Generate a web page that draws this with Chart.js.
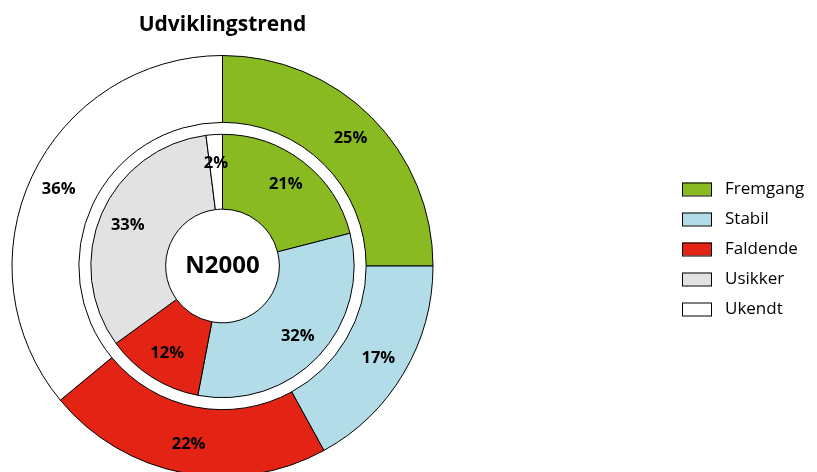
<!DOCTYPE html>
<html lang="da">
<head>
  <meta charset="UTF-8" />
  <title>Udviklingstrend</title>
  <script src="https://cdn.jsdelivr.net/npm/chart.js"></script>
  <style>
    html, body { margin: 0; padding: 0; background: #fff; overflow: hidden; }
    canvas { display: block; }
  </style>
</head>
<body>
  <canvas id="trendChart" width="817" height="490"></canvas>

  <script>
    const titleText = "Udviklingstrend";
    const centerText = "N2000";
    const categories = ["Fremgang", "Stabil", "Faldende", "Usikker", "Ukendt"];
    const sliceColors = ["#8aba21", "#b2dde8", "#e32314", "#e2e2e2", "#ffffff"];
    // outer ring and inner ring, in percent
    const outerValues = [25, 17, 22, 0, 36];
    const innerValues = [21, 32, 12, 33, 2];

    const fontFamily = "'Open Sans', 'Noto Sans', sans-serif";

    // percent labels on the slices + the text in the middle
    const sliceLabels = {
      id: "sliceLabels",
      afterDatasetsDraw(chart) {
        const ctx = chart.ctx;
        ctx.save();
        ctx.fillStyle = "#000";
        ctx.textAlign = "center";
        ctx.textBaseline = "middle";
        ctx.font = "bold 16.5px " + fontFamily;
        [[0, 0.56], [2, 0.62]].forEach(([di, k]) => {
          const values = chart.data.datasets[di].data;
          chart.getDatasetMeta(di).data.forEach((arc, i) => {
            if (!values[i]) return;
            const p = arc.getProps(["x", "y", "startAngle", "endAngle", "innerRadius", "outerRadius"], true);
            const a = (p.startAngle + p.endAngle) / 2;
            const r = p.innerRadius + (p.outerRadius - p.innerRadius) * k;
            ctx.fillText(values[i] + "%", p.x + Math.cos(a) * r, p.y + Math.sin(a) * r);
          });
        });
        const c = chart.getDatasetMeta(2).data[0];
        ctx.font = "bold 24px " + fontFamily;
        ctx.fillText(centerText, c.x, c.y);
        ctx.restore();
      }
    };

    // legend drawn at the right side
    const sideLegend = {
      id: "sideLegend",
      afterDraw(chart) {
        const ctx = chart.ctx;
        ctx.save();
        ctx.font = "17px " + fontFamily;
        ctx.textBaseline = "middle";
        ctx.lineWidth = 1;
        categories.forEach((name, i) => {
          const y = 189 + i * 30;
          ctx.fillStyle = sliceColors[i];
          ctx.fillRect(682, y - 6.5, 30, 13);
          ctx.strokeStyle = "#000";
          ctx.strokeRect(682.5, y - 6, 29, 13);
          ctx.fillStyle = "#000";
          ctx.fillText(name, 725, y);
        });
        ctx.restore();
      }
    };

    const ctx = document.getElementById("trendChart").getContext("2d");
    const chart = new Chart(ctx, {
      type: "doughnut",
      data: {
        labels: categories,
        datasets: [
          {
            data: outerValues,
            backgroundColor: sliceColors,
            borderColor: "#000",
            borderWidth: 1,
            weight: 67
          },
          {
            // white gap between the two rings
            data: [1],
            backgroundColor: "rgba(0,0,0,0)",
            borderWidth: 0,
            weight: 12
          },
          {
            data: innerValues,
            backgroundColor: sliceColors,
            borderColor: "#000",
            borderWidth: 1,
            weight: 75
          }
        ]
      },
      options: {
        responsive: false,
        animation: false,
        cutout: "27%",
        layout: { padding: { right: 372, bottom: 13 } },
        plugins: {
          legend: { display: false },
          tooltip: { enabled: false },
          title: {
            display: true,
            text: titleText,
            color: "#000",
            font: { family: fontFamily, size: 21, weight: "bold" },
            padding: { top: 12.4, bottom: 17.4 }
          }
        }
      },
      plugins: [sliceLabels, sideLegend]
    });
  </script>
</body>
</html>
